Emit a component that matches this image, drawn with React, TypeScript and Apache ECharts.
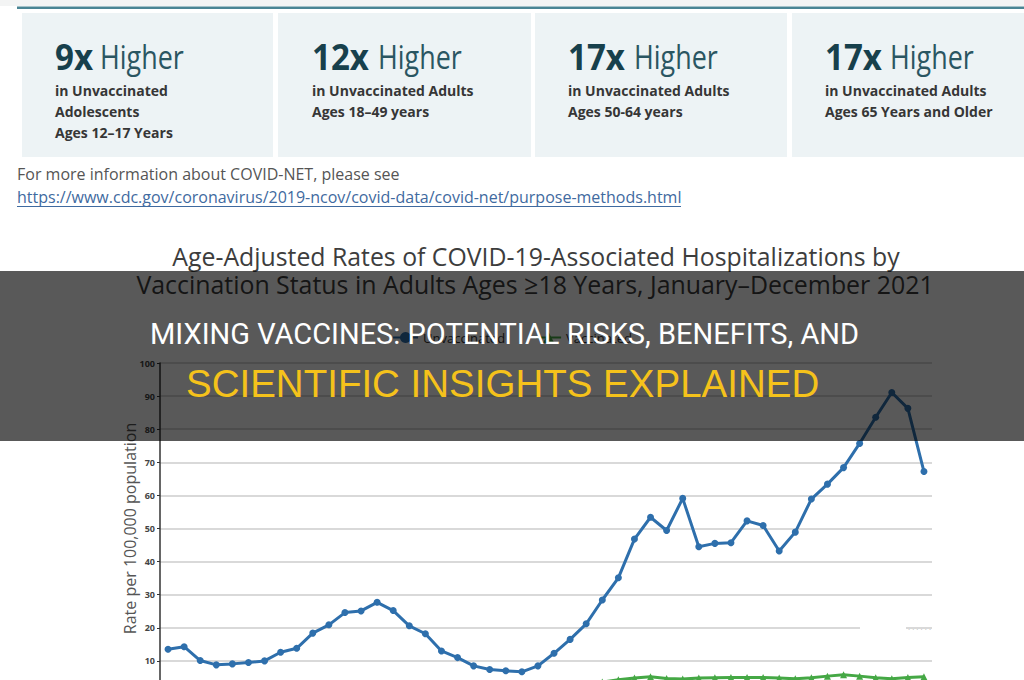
import React, { useEffect, useRef } from "react";
import * as echarts from "echarts";

const weeks = [
  "Jan 2", "Jan 9", "Jan 16", "Jan 23", "Jan 30", "Feb 6", "Feb 13", "Feb 20", "Feb 27",
  "Mar 6", "Mar 13", "Mar 20", "Mar 27", "Apr 3", "Apr 10", "Apr 17", "Apr 24",
  "May 1", "May 8", "May 15", "May 22", "May 29", "Jun 5", "Jun 12", "Jun 19", "Jun 26",
  "Jul 3", "Jul 10", "Jul 17", "Jul 24", "Jul 31", "Aug 7", "Aug 14", "Aug 21", "Aug 28",
  "Sep 4", "Sep 11", "Sep 18", "Sep 25", "Oct 2", "Oct 9", "Oct 16", "Oct 23", "Oct 30",
  "Nov 6", "Nov 13", "Nov 20", "Nov 27",
];

const unvaccinated = [
  13.5, 14.3, 10.1, 8.8, 9.1, 9.5, 10.0, 12.6, 13.8, 18.4, 20.9, 24.6, 25.1, 27.7, 25.2, 20.6,
  18.2, 13.0, 11.0, 8.5, 7.4, 7.0, 6.7, 8.5, 12.3, 16.5, 21.2, 28.4, 35.1, 46.8, 53.4, 49.4,
  59.1, 44.5, 45.5, 45.7, 52.3, 50.9, 43.2, 48.9, 58.9, 63.4, 68.4, 75.7, 83.6, 91.1, 86.3, 67.2,
];

const vaccinated = [
  3.0, 2.8, 2.4, 2.0, 1.8, 1.6, 1.5, 1.6, 1.7, 2.0, 2.2, 2.5, 2.6, 2.8, 2.6, 2.2,
  2.0, 1.6, 1.4, 1.2, 1.1, 1.0, 1.0, 1.2, 1.6, 2.2, 2.9, 3.6, 4.3, 4.8, 5.2, 4.7,
  4.5, 4.8, 4.9, 5.0, 5.0, 5.0, 4.8, 4.6, 4.9, 5.4, 5.8, 5.4, 4.9, 4.6, 5.0, 5.2,
];

const boxNumbers = ["9x", "12x", "17x", "17x"];
const boxLines = [
  ["in Unvaccinated", "Adolescents", "Ages 12–17 Years"],
  ["in Unvaccinated Adults", "Ages 18–49 years"],
  ["in Unvaccinated Adults", "Ages 50-64 years"],
  ["in Unvaccinated Adults", "Ages 65 Years and Older"],
];

const titleLines = [
  "Age-Adjusted Rates of COVID-19-Associated Hospitalizations by",
  "Vaccination Status in Adults Ages ≥18 Years, January–December 2021",
];
const infoText = "For more information about COVID-NET, please see";
const linkText = "https://www.cdc.gov/coronavirus/2019-ncov/covid-data/covid-net/purpose-methods.html";
const bannerLine1 = "MIXING VACCINES: POTENTIAL RISKS, BENEFITS, AND";
const bannerLine2 = "SCIENTIFIC INSIGHTS EXPLAINED";

function txt(x: number, y: number, text: string, font: string, fill: string, extra: any = {}) {
  const { align = "left", scaleX = 1, z = 10 } = extra;
  return {
    type: "text",
    x,
    y,
    z,
    scaleX,
    style: {
      text,
      font,
      fill,
      textAlign: align,
      textVerticalAlign: "middle",
      align,
      verticalAlign: "middle",
    },
  };
}

export default function App() {
  const ref = useRef<HTMLDivElement>(null);

  useEffect(() => {
    if (!ref.current) return;
    const chart = echarts.init(ref.current, undefined, { renderer: "svg" });

    const boxX = [22, 278, 535, 792];
    const boxW = [251, 253, 252, 232];
    const numX = [55, 312, 568, 825];
    const higherX = [100, 378, 634, 890];

    const graphics: any[] = [];
    graphics.push({ type: "rect", z: 1, shape: { x: 0, y: 0, width: 1024, height: 6 }, style: { fill: "#f3f4f4" } });
    graphics.push({ type: "rect", z: 2, shape: { x: 17, y: 6.5, width: 1007, height: 2.5 }, style: { fill: "#4a8594" } });
    boxX.forEach((bx, i) => {
      graphics.push({ type: "rect", z: 1, shape: { x: bx, y: 13, width: boxW[i], height: 144 }, style: { fill: "#edf3f5" } });
      graphics.push(txt(numX[i], 56, boxNumbers[i], 'bold 36px "Open Sans"', "#17404c", { scaleX: 0.92 }));
      graphics.push(txt(higherX[i], 57, "Higher", '32px "Open Sans"', "#2a5662", { scaleX: 0.84 }));
      boxLines[i].forEach((line, j) => {
        graphics.push(txt(numX[i], 90 + j * 21, line, 'bold 14px "Open Sans"', "#363636"));
      });
    });
    graphics.push(txt(17, 174, infoText, '16px "Open Sans"', "#555555"));
    graphics.push(txt(17, 197, linkText, '16px "Open Sans"', "#3f6aa0"));
    graphics.push({ type: "line", z: 10, shape: { x1: 17, y1: 206.5, x2: 681, y2: 206.5 }, style: { stroke: "#3f6aa0", lineWidth: 1 } });
    graphics.push(txt(536, 256, titleLines[0], '26px "Open Sans"', "#3d3d3d", { align: "center", scaleX: 0.955 }));
    graphics.push(txt(535, 284, titleLines[1], '26px "Open Sans"', "#3d3d3d", { align: "center", scaleX: 0.958 }));
    // small patch on the right of the plot
    graphics.push({ type: "rect", z: 50, shape: { x: 860, y: 621, width: 46, height: 14 }, style: { fill: "#ffffff" } });
    graphics.push(txt(908, 628, "· · · · · ·", '8px "Open Sans"', "#b0b0b0", { z: 51 }));
    // banner overlay
    graphics.push({ type: "rect", z: 100, shape: { x: 0, y: 271, width: 1024, height: 170 }, style: { fill: "rgba(0,0,0,0.65)" } });
    graphics.push(txt(150, 334, bannerLine1, "29px Roboto", "#ffffff", { z: 101 }));
    graphics.push(txt(186, 383, bannerLine2, '38.5px "Liberation Sans"', "#f5c21b", { z: 101 }));

    chart.setOption({
      animation: false,
      grid: { left: 160, right: 92, top: 363, bottom: 66, containLabel: false },
      legend: {
        top: 326,
        left: "center",
        itemGap: 30,
        textStyle: { fontFamily: "Open Sans", fontSize: 13, color: "#333" },
        data: ["Unvaccinated", "Vaccinated"],
      },
      xAxis: {
        type: "category",
        data: weeks,
        boundaryGap: true,
        axisLine: { show: true, lineStyle: { color: "#333" } },
        axisTick: { show: false },
        axisLabel: { show: false },
      },
      yAxis: {
        type: "value",
        min: 0,
        max: 100,
        interval: 10,
        name: "Rate per 100,000 population",
        nameLocation: "middle",
        nameGap: 22,
        nameMoveOverlap: false,
        nameTextStyle: { fontFamily: "Open Sans", fontSize: 16, color: "#555" },
        axisLine: { show: true, lineStyle: { color: "#333", width: 1.5 } },
        axisTick: { show: true, length: 3, lineStyle: { color: "#333" } },
        axisLabel: { fontSize: 9, color: "#444", fontWeight: "bold", margin: 5, fontFamily: "Open Sans", showMinLabel: false },
        splitLine: { lineStyle: { color: "#d9d9d9", width: 2 } },
      },
      series: [
        {
          name: "Unvaccinated",
          type: "line",
          data: unvaccinated,
          color: "#2e6fac",
          lineStyle: { width: 3, color: "#2e6fac" },
          symbol: "circle",
          symbolSize: 7,
          itemStyle: { color: "#2e6fac" },
          z: 3,
        },
        {
          name: "Vaccinated",
          type: "line",
          data: vaccinated,
          color: "#45a845",
          lineStyle: { width: 3, color: "#45a845" },
          symbol: "triangle",
          symbolSize: 7,
          itemStyle: { color: "#45a845" },
          z: 3,
        },
      ],
      graphic: graphics,
    });

    return () => chart.dispose();
  }, []);

  return (
    <div style={{ position: "fixed", left: 0, top: 0, width: 1024, height: 680, overflow: "hidden", background: "#fff" }}>
      <div ref={ref} style={{ width: 1024, height: 760 }} />
    </div>
  );
}
